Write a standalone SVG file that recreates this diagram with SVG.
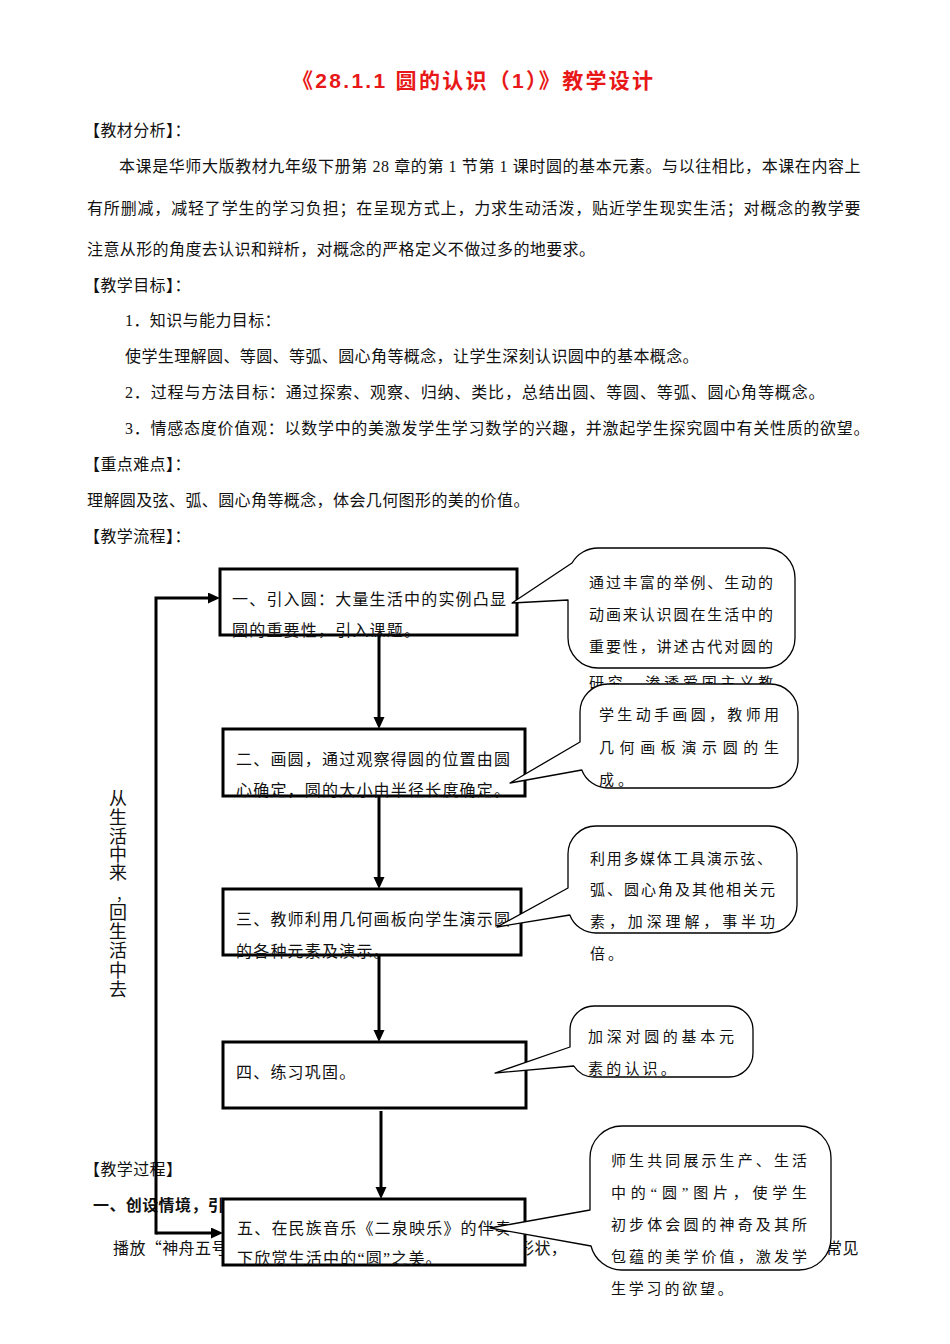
<svg xmlns="http://www.w3.org/2000/svg" width="950" height="1344" viewBox="0 0 950 1344">
<style>
.bg{fill:#fff}
.title{font-family:"Liberation Sans","Noto Sans CJK SC",sans-serif;font-size:21px;font-weight:bold;fill:#e81818}
.body{font-family:"Liberation Serif","Noto Sans CJK SC",serif;font-size:16px;letter-spacing:0.4px;fill:#111}
.cjk{font-family:"Noto Sans CJK SC","Liberation Serif",sans-serif}
.bold{font-weight:bold}
.vt{font-family:"Liberation Sans","Noto Sans CJK SC",sans-serif;font-size:18px;fill:#111;text-anchor:middle}
.box{fill:#fff;stroke:#000;stroke-width:3}
.bt{font-family:"Liberation Serif","Noto Sans CJK SC",serif;font-size:16px;letter-spacing:1.2px;fill:#111}
.co{fill:#fff;stroke:#000;stroke-width:1.3;stroke-linejoin:round}
.ct{font-family:"Liberation Serif","Noto Sans CJK SC",serif;font-size:15px;fill:#111}
.conn{fill:none;stroke:#000;stroke-width:3}
</style>
<defs>
<marker id="ah" markerUnits="userSpaceOnUse" markerWidth="14" markerHeight="12" refX="4" refY="5.5" orient="auto">
<path d="M0,0 L12,5.5 L0,11 Z" fill="#000"/>
</marker>
</defs>
<rect class="bg" x="0" y="0" width="950" height="1344"/>

<text class="title" x="292" y="88" textLength="361" lengthAdjust="spacing">《28.1.1 圆的认识（1）》教学设计</text>

<g id="document-text">
<text class="body" x="84" y="136">【教材分析】：</text>
<text class="body" x="119" y="172" textLength="742" lengthAdjust="spacing">本课是华师大版教材九年级下册第 28 章的第 1 节第 1 课时圆的基本元素。与以往相比，本课在内容上</text>
<text class="body" x="87" y="214" textLength="774" lengthAdjust="spacing">有所删减，减轻了学生的学习负担；在呈现方式上，力求生动活泼，贴近学生现实生活；对概念的教学要</text>
<text class="body" x="87" y="255">注意从形的角度去认识和辩析，对概念的严格定义不做过多的地要求。</text>
<text class="body" x="84" y="291">【教学目标】：</text>
<text class="body" x="125" y="326">1．知识与能力目标：</text>
<text class="body" x="125" y="362">使学生理解圆、等圆、等弧、圆心角等概念，让学生深刻认识圆中的基本概念。</text>
<text class="body" x="125" y="398" textLength="700" lengthAdjust="spacing">2．过程与方法目标：通过探索、观察、归纳、类比，总结出圆、等圆、等弧、圆心角等概念。</text>
<text class="body" x="125" y="434" textLength="745" lengthAdjust="spacing">3．情感态度价值观：以数学中的美激发学生学习数学的兴趣，并激起学生探究圆中有关性质的欲望。</text>
<text class="body" x="84" y="470">【重点难点】：</text>
<text class="body" x="87" y="506">理解圆及弦、弧、圆心角等概念，体会几何图形的美的价值。</text>
<text class="body" x="84" y="542">【教学流程】：</text>
<text class="body" x="84" y="1175">【教学过程】</text>
<text class="body bold" x="93" y="1211">一、创设情境，引</text>
<text class="body cjk" x="113" y="1254">播放“神舟五号</text>
<text class="body" x="518" y="1254">形状，</text>
<text class="body" x="826" y="1254">常见</text>
</g>

<g id="side-label">
<text class="vt"><tspan x="118" y="805">从</tspan><tspan x="118" y="824">生</tspan><tspan x="118" y="843">活</tspan><tspan x="118" y="861">中</tspan><tspan x="118" y="879">来</tspan><tspan x="123" y="900" font-size="14">，</tspan><tspan x="118" y="919">回</tspan><tspan x="118" y="938">生</tspan><tspan x="118" y="957">活</tspan><tspan x="118" y="977">中</tspan><tspan x="118" y="996">去</tspan></text>
</g>

<g id="step1">
<rect class="box" x="220" y="569" width="297" height="66"/>
<text class="bt" x="232" y="605">一、引入圆：大量生活中的实例凸显</text>
<text class="bt" x="232" y="636">圆的重要性，引入课题。</text>
</g>
<g id="step2">
<rect class="box" x="223" y="729" width="302" height="67"/>
<text class="bt" x="236" y="765">二、画圆，通过观察得圆的位置由圆</text>
<text class="bt" x="236" y="796">心确定，圆的大小由半径长度确定。</text>
</g>
<g id="step3">
<rect class="box" x="223" y="889" width="298" height="66"/>
<text class="bt" x="236" y="925">三、教师利用几何画板向学生演示圆</text>
<text class="bt" x="236" y="957">的各种元素及演示。</text>
</g>
<g id="step4">
<rect class="box" x="223" y="1042" width="303" height="66"/>
<text class="bt" x="236" y="1078">四、练习巩固。</text>
</g>
<g id="step5">
<rect class="box" x="223" y="1199" width="302" height="66"/>
<text class="bt" x="237" y="1234">五、在民族音乐《二泉映乐》的伴奏</text>
<text class="bt cjk" x="237" y="1264">下欣赏生活中的“圆”之美。</text>
</g>

<g id="connectors">
<path class="conn" d="M379 635 V721" marker-end="url(#ah)"/>
<path class="conn" d="M379 796 V881" marker-end="url(#ah)"/>
<path class="conn" d="M379 955 V1034" marker-end="url(#ah)"/>
<path class="conn" d="M381 1111 V1191" marker-end="url(#ah)"/>
<path class="conn" d="M156 1234.5 V598 H212" marker-end="url(#ah)"/>
<path class="conn" d="M156 1233 H215" marker-end="url(#ah)"/>
</g>

<g id="note1">
<path class="co" d="M572 563 A30 30 0 0 1 598 548 H765 A30 30 0 0 1 795 578 V638 A30 30 0 0 1 765 668 H598 A30 30 0 0 1 568 638 V600 L512 603 Z"/>
<text class="ct" x="589" y="588" textLength="184" lengthAdjust="spacing">通过丰富的举例、生动的</text>
<text class="ct" x="589" y="620" textLength="184" lengthAdjust="spacing">动画来认识圆在生活中的</text>
<text class="ct" x="589" y="652" textLength="184" lengthAdjust="spacing">重要性，讲述古代对圆的</text>
<text class="ct" x="589" y="688" textLength="184" lengthAdjust="spacing">研究，渗透爱国主义教</text>
</g>
<g id="note2">
<path class="co" d="M580 742 V712 A28 28 0 0 1 608 684 H770 A28 28 0 0 1 798 712 V760 A28 28 0 0 1 770 788 H608 A28 28 0 0 1 581.8 770 L510 783 Z"/>
<text class="ct" x="599" y="720" textLength="180" lengthAdjust="spacing">学生动手画圆，教师用</text>
<text class="ct" x="599" y="753" textLength="180" lengthAdjust="spacing">几何画板演示圆的生</text>
<text class="ct" x="599" y="785" letter-spacing="4">成。</text>
</g>
<g id="note3">
<path class="co" d="M568 888 V854 A28 28 0 0 1 596 826 H769 A28 28 0 0 1 797 854 V905 A28 28 0 0 1 769 933 H596 A28 28 0 0 1 569.8 915 L497 927 Z"/>
<text class="ct" x="590" y="864" textLength="182" lengthAdjust="spacing">利用多媒体工具演示弦、</text>
<text class="ct" x="590" y="895" textLength="185" lengthAdjust="spacing">弧、圆心角及其他相关元</text>
<text class="ct" x="590" y="927" textLength="185" lengthAdjust="spacing">素，加深理解，事半功</text>
<text class="ct" x="590" y="959" letter-spacing="3">倍。</text>
</g>
<g id="note4">
<path class="co" d="M570 1047 V1030 A24 24 0 0 1 594 1006 H729 A24 24 0 0 1 753 1030 V1053 A24 24 0 0 1 729 1077 H594 A24 24 0 0 1 573.8 1066 L495 1073 Z"/>
<text class="ct" x="588" y="1042" textLength="146" lengthAdjust="spacing">加深对圆的基本元</text>
<text class="ct" x="588" y="1074" letter-spacing="3.2">素的认识。</text>
</g>
<g id="note5">
<path class="co" d="M590 1210 V1158 A32 32 0 0 1 622 1126 H799 A32 32 0 0 1 831 1158 V1238 A32 32 0 0 1 799 1270 H622 A32 32 0 0 1 591 1246 L490 1228 Z"/>
<text class="ct" x="611" y="1166" textLength="196" lengthAdjust="spacing">师生共同展示生产、生活</text>
<text class="ct cjk" x="611" y="1198" textLength="196" lengthAdjust="spacing">中的“圆”图片，使学生</text>
<text class="ct" x="611" y="1230" textLength="196" lengthAdjust="spacing">初步体会圆的神奇及其所</text>
<text class="ct" x="611" y="1262" textLength="196" lengthAdjust="spacing">包蕴的美学价值，激发学</text>
<text class="ct" x="611" y="1294" letter-spacing="2.8">生学习的欲望。</text>
</g>
</svg>
